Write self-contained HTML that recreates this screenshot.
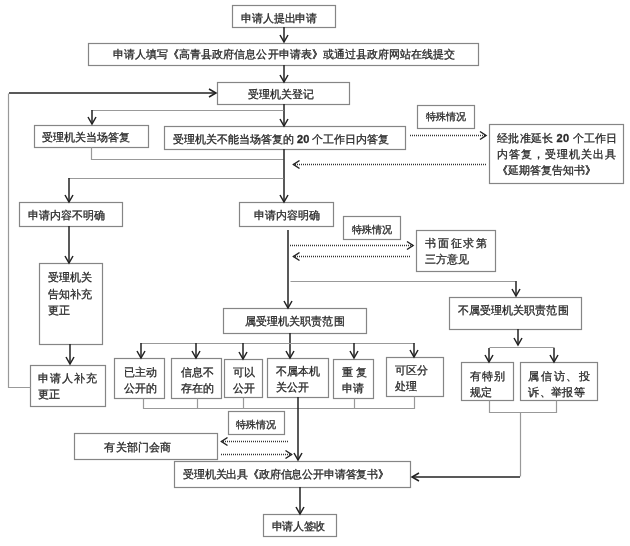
<!DOCTYPE html>
<html><head><meta charset="utf-8"><style>
html,body{margin:0;padding:0;background:#fff;width:630px;height:546px;overflow:hidden}
.t{position:absolute;white-space:nowrap;color:#2a2a2a;font-family:"Liberation Sans",sans-serif;-webkit-text-stroke:0.3px #2a2a2a}
.t b{font-weight:bold}
svg{position:absolute;left:0;top:0}
body{filter:blur(0.3px)}
</style></head><body>
<svg width="630" height="546" viewBox="0 0 630 546">
<rect x="232.50" y="5.50" width="103.00" height="22.00" fill="#fff" stroke="#858585" stroke-width="1.2"/>
<rect x="88.50" y="43.50" width="390.00" height="22.00" fill="#fff" stroke="#858585" stroke-width="1.2"/>
<rect x="217.50" y="82.50" width="132.00" height="22.00" fill="#fff" stroke="#858585" stroke-width="1.2"/>
<rect x="34.50" y="125.50" width="114.00" height="22.00" fill="#fff" stroke="#858585" stroke-width="1.2"/>
<rect x="164.50" y="126.50" width="241.00" height="23.00" fill="#fff" stroke="#858585" stroke-width="1.2"/>
<rect x="417.50" y="105.50" width="57.00" height="23.00" fill="#fff" stroke="#858585" stroke-width="1.2"/>
<rect x="489.50" y="124.50" width="134.00" height="59.00" fill="#fff" stroke="#858585" stroke-width="1.2"/>
<rect x="19.50" y="202.50" width="103.00" height="24.00" fill="#fff" stroke="#858585" stroke-width="1.2"/>
<rect x="239.50" y="202.50" width="94.00" height="24.00" fill="#fff" stroke="#858585" stroke-width="1.2"/>
<rect x="343.50" y="216.50" width="57.00" height="23.00" fill="#fff" stroke="#858585" stroke-width="1.2"/>
<rect x="416.50" y="230.50" width="79.00" height="41.00" fill="#fff" stroke="#858585" stroke-width="1.2"/>
<rect x="39.50" y="263.50" width="63.00" height="81.00" fill="#fff" stroke="#858585" stroke-width="1.2"/>
<rect x="30.50" y="365.50" width="75.00" height="41.00" fill="#fff" stroke="#858585" stroke-width="1.2"/>
<rect x="223.50" y="308.50" width="143.00" height="25.00" fill="#fff" stroke="#858585" stroke-width="1.2"/>
<rect x="449.50" y="297.50" width="132.00" height="32.00" fill="#fff" stroke="#858585" stroke-width="1.2"/>
<rect x="114.50" y="358.50" width="50.00" height="40.00" fill="#fff" stroke="#858585" stroke-width="1.2"/>
<rect x="171.50" y="358.50" width="50.00" height="40.00" fill="#fff" stroke="#858585" stroke-width="1.2"/>
<rect x="224.50" y="359.50" width="38.00" height="38.00" fill="#fff" stroke="#858585" stroke-width="1.2"/>
<rect x="267.50" y="358.50" width="61.00" height="39.00" fill="#fff" stroke="#858585" stroke-width="1.2"/>
<rect x="333.50" y="359.50" width="40.00" height="39.00" fill="#fff" stroke="#858585" stroke-width="1.2"/>
<rect x="386.50" y="357.50" width="57.00" height="39.00" fill="#fff" stroke="#858585" stroke-width="1.2"/>
<rect x="461.50" y="362.50" width="52.00" height="38.00" fill="#fff" stroke="#858585" stroke-width="1.2"/>
<rect x="520.50" y="362.50" width="77.00" height="38.00" fill="#fff" stroke="#858585" stroke-width="1.2"/>
<rect x="228.50" y="411.50" width="56.00" height="23.00" fill="#fff" stroke="#858585" stroke-width="1.2"/>
<rect x="74.50" y="433.50" width="143.00" height="26.00" fill="#fff" stroke="#858585" stroke-width="1.2"/>
<rect x="174.50" y="461.50" width="236.00" height="26.00" fill="#fff" stroke="#858585" stroke-width="1.2"/>
<rect x="263.50" y="514.50" width="73.00" height="22.00" fill="#fff" stroke="#858585" stroke-width="1.2"/>
<polyline points="284.00,27.00 284.00,42.00" fill="none" stroke="#222" stroke-width="1.5"/>
<polyline points="280.00,35.00 284.00,42.00 288.00,35.00" fill="none" stroke="#222" stroke-width="1.5" stroke-linejoin="miter" stroke-miterlimit="10"/>
<polyline points="284.00,65.00 284.00,82.00" fill="none" stroke="#222" stroke-width="1.5"/>
<polyline points="280.00,75.00 284.00,82.00 288.00,75.00" fill="none" stroke="#222" stroke-width="1.5" stroke-linejoin="miter" stroke-miterlimit="10"/>
<polyline points="30.50,387.50 8.50,387.50 8.50,93.50" fill="none" stroke="#999" stroke-width="1.2"/>
<polyline points="9.00,93.00 216.00,93.00" fill="none" stroke="#222" stroke-width="1.5"/>
<polyline points="209.00,97.00 216.00,93.00 209.00,89.00" fill="none" stroke="#222" stroke-width="1.5" stroke-linejoin="miter" stroke-miterlimit="10"/>
<polyline points="284.00,104.00 284.00,126.00" fill="none" stroke="#222" stroke-width="1.5"/>
<polyline points="280.00,119.00 284.00,126.00 288.00,119.00" fill="none" stroke="#222" stroke-width="1.5" stroke-linejoin="miter" stroke-miterlimit="10"/>
<polyline points="283.50,110.50 91.50,110.50" fill="none" stroke="#999" stroke-width="1.2"/>
<polyline points="92.00,110.00 92.00,124.00" fill="none" stroke="#222" stroke-width="1.5"/>
<polyline points="88.00,117.00 92.00,124.00 96.00,117.00" fill="none" stroke="#222" stroke-width="1.5" stroke-linejoin="miter" stroke-miterlimit="10"/>
<polyline points="91.50,147.50 91.50,159.50 283.50,159.50" fill="none" stroke="#999" stroke-width="1.2"/>
<polyline points="284.00,149.00 284.00,202.00" fill="none" stroke="#222" stroke-width="1.5"/>
<polyline points="280.00,195.00 284.00,202.00 288.00,195.00" fill="none" stroke="#222" stroke-width="1.5" stroke-linejoin="miter" stroke-miterlimit="10"/>
<polyline points="283.50,178.50 68.50,178.50" fill="none" stroke="#999" stroke-width="1.2"/>
<polyline points="69.00,178.00 69.00,202.00" fill="none" stroke="#222" stroke-width="1.5"/>
<polyline points="65.00,195.00 69.00,202.00 73.00,195.00" fill="none" stroke="#222" stroke-width="1.5" stroke-linejoin="miter" stroke-miterlimit="10"/>
<polyline points="69.00,226.00 69.00,263.00" fill="none" stroke="#222" stroke-width="1.5"/>
<polyline points="65.00,256.00 69.00,263.00 73.00,256.00" fill="none" stroke="#222" stroke-width="1.5" stroke-linejoin="miter" stroke-miterlimit="10"/>
<polyline points="70.00,344.00 70.00,364.00" fill="none" stroke="#222" stroke-width="1.5"/>
<polyline points="66.00,357.00 70.00,364.00 74.00,357.00" fill="none" stroke="#222" stroke-width="1.5" stroke-linejoin="miter" stroke-miterlimit="10"/>
<polyline points="288.00,230.00 288.00,308.00" fill="none" stroke="#222" stroke-width="1.5"/>
<polyline points="284.00,301.00 288.00,308.00 292.00,301.00" fill="none" stroke="#222" stroke-width="1.5" stroke-linejoin="miter" stroke-miterlimit="10"/>
<polyline points="290.50,281.50 515.50,281.50" fill="none" stroke="#999" stroke-width="1.2"/>
<polyline points="516.00,281.00 516.00,296.00" fill="none" stroke="#222" stroke-width="1.5"/>
<polyline points="512.00,289.00 516.00,296.00 520.00,289.00" fill="none" stroke="#222" stroke-width="1.5" stroke-linejoin="miter" stroke-miterlimit="10"/>
<polyline points="290.00,333.00 290.00,358.00" fill="none" stroke="#222" stroke-width="1.5"/>
<polyline points="286.00,351.00 290.00,358.00 294.00,351.00" fill="none" stroke="#222" stroke-width="1.5" stroke-linejoin="miter" stroke-miterlimit="10"/>
<polyline points="140.50,343.50 414.50,343.50" fill="none" stroke="#999" stroke-width="1.2"/>
<polyline points="141.00,343.00 141.00,358.00" fill="none" stroke="#222" stroke-width="1.5"/>
<polyline points="137.00,351.00 141.00,358.00 145.00,351.00" fill="none" stroke="#222" stroke-width="1.5" stroke-linejoin="miter" stroke-miterlimit="10"/>
<polyline points="196.00,343.00 196.00,358.00" fill="none" stroke="#222" stroke-width="1.5"/>
<polyline points="192.00,351.00 196.00,358.00 200.00,351.00" fill="none" stroke="#222" stroke-width="1.5" stroke-linejoin="miter" stroke-miterlimit="10"/>
<polyline points="243.00,343.00 243.00,359.00" fill="none" stroke="#222" stroke-width="1.5"/>
<polyline points="239.00,352.00 243.00,359.00 247.00,352.00" fill="none" stroke="#222" stroke-width="1.5" stroke-linejoin="miter" stroke-miterlimit="10"/>
<polyline points="354.00,343.00 354.00,358.00" fill="none" stroke="#222" stroke-width="1.5"/>
<polyline points="350.00,351.00 354.00,358.00 358.00,351.00" fill="none" stroke="#222" stroke-width="1.5" stroke-linejoin="miter" stroke-miterlimit="10"/>
<polyline points="414.00,343.00 414.00,357.00" fill="none" stroke="#222" stroke-width="1.5"/>
<polyline points="410.00,350.00 414.00,357.00 418.00,350.00" fill="none" stroke="#222" stroke-width="1.5" stroke-linejoin="miter" stroke-miterlimit="10"/>
<polyline points="143.50,398.50 143.50,408.50 414.50,408.50 414.50,396.50" fill="none" stroke="#999" stroke-width="1.2"/>
<polyline points="197.50,398.50 197.50,408.50" fill="none" stroke="#999" stroke-width="1.2"/>
<polyline points="243.50,397.50 243.50,408.50" fill="none" stroke="#999" stroke-width="1.2"/>
<polyline points="354.50,398.50 354.50,408.50" fill="none" stroke="#999" stroke-width="1.2"/>
<polyline points="298.00,397.00 298.00,460.00" fill="none" stroke="#222" stroke-width="1.5"/>
<polyline points="294.00,453.00 298.00,460.00 302.00,453.00" fill="none" stroke="#222" stroke-width="1.5" stroke-linejoin="miter" stroke-miterlimit="10"/>
<polyline points="518.00,329.00 518.00,345.00" fill="none" stroke="#222" stroke-width="1.5"/>
<polyline points="514.00,338.00 518.00,345.00 522.00,338.00" fill="none" stroke="#222" stroke-width="1.5" stroke-linejoin="miter" stroke-miterlimit="10"/>
<polyline points="489.50,347.50 554.50,347.50" fill="none" stroke="#999" stroke-width="1.2"/>
<polyline points="489.00,348.00 489.00,362.00" fill="none" stroke="#222" stroke-width="1.5"/>
<polyline points="485.00,355.00 489.00,362.00 493.00,355.00" fill="none" stroke="#222" stroke-width="1.5" stroke-linejoin="miter" stroke-miterlimit="10"/>
<polyline points="554.00,348.00 554.00,362.00" fill="none" stroke="#222" stroke-width="1.5"/>
<polyline points="550.00,355.00 554.00,362.00 558.00,355.00" fill="none" stroke="#222" stroke-width="1.5" stroke-linejoin="miter" stroke-miterlimit="10"/>
<polyline points="489.50,400.50 489.50,412.50 556.50,412.50 556.50,400.50" fill="none" stroke="#999" stroke-width="1.2"/>
<polyline points="520.50,412.50 520.50,476.50" fill="none" stroke="#999" stroke-width="1.2"/>
<polyline points="520.00,477.00 412.00,477.00" fill="none" stroke="#222" stroke-width="1.5"/>
<polyline points="419.00,473.00 412.00,477.00 419.00,481.00" fill="none" stroke="#222" stroke-width="1.5" stroke-linejoin="miter" stroke-miterlimit="10"/>
<polyline points="300.00,487.00 300.00,514.00" fill="none" stroke="#222" stroke-width="1.5"/>
<polyline points="296.00,507.00 300.00,514.00 304.00,507.00" fill="none" stroke="#222" stroke-width="1.5" stroke-linejoin="miter" stroke-miterlimit="10"/>
<line x1="410.00" y1="135.50" x2="486.00" y2="135.50" stroke="#333" stroke-width="1.3" stroke-dasharray="1 1"/>
<polyline points="480.00,139.50 486.00,135.50 480.00,131.50" fill="none" stroke="#222" stroke-width="1.5" stroke-linejoin="miter" stroke-miterlimit="10"/>
<line x1="486.00" y1="164.50" x2="293.50" y2="164.50" stroke="#333" stroke-width="1.3" stroke-dasharray="1 1"/>
<polyline points="299.50,160.50 293.50,164.50 299.50,168.50" fill="none" stroke="#222" stroke-width="1.5" stroke-linejoin="miter" stroke-miterlimit="10"/>
<line x1="290.00" y1="245.50" x2="413.00" y2="245.50" stroke="#333" stroke-width="1.3" stroke-dasharray="1 1"/>
<polyline points="407.00,249.50 413.00,245.50 407.00,241.50" fill="none" stroke="#222" stroke-width="1.5" stroke-linejoin="miter" stroke-miterlimit="10"/>
<line x1="410.00" y1="256.50" x2="293.50" y2="256.50" stroke="#333" stroke-width="1.3" stroke-dasharray="1 1"/>
<polyline points="299.50,252.50 293.50,256.50 299.50,260.50" fill="none" stroke="#222" stroke-width="1.5" stroke-linejoin="miter" stroke-miterlimit="10"/>
<line x1="288.00" y1="441.50" x2="221.50" y2="441.50" stroke="#333" stroke-width="1.3" stroke-dasharray="1 1"/>
<polyline points="227.50,437.50 221.50,441.50 227.50,445.50" fill="none" stroke="#222" stroke-width="1.5" stroke-linejoin="miter" stroke-miterlimit="10"/>
<line x1="221.00" y1="454.50" x2="291.50" y2="454.50" stroke="#333" stroke-width="1.3" stroke-dasharray="1 1"/>
<polyline points="285.50,458.50 291.50,454.50 285.50,450.50" fill="none" stroke="#222" stroke-width="1.5" stroke-linejoin="miter" stroke-miterlimit="10"/>
</svg>
<div class="t" style="left:241.30px;top:10.55px;font-size:11px;line-height:15px;letter-spacing:-0.17px">申请人提出申请</div>
<div class="t" style="left:112.70px;top:47.05px;font-size:11px;line-height:15px;letter-spacing:0.06px">申请人填写《高青县政府信息公开申请表》或通过县政府网站在线提交</div>
<div class="t" style="left:248.00px;top:87.05px;font-size:11px;line-height:15px;letter-spacing:0.00px">受理机关登记</div>
<div class="t" style="left:42.30px;top:130.05px;font-size:11px;line-height:15px;letter-spacing:0.00px">受理机关当场答复</div>
<div class="t" style="left:173.00px;top:132.05px;font-size:11px;line-height:15px;letter-spacing:0.00px">受理机关不能当场答复的 <b>20</b> 个工作日内答复</div>
<div class="t" style="left:425.60px;top:110.42px;font-size:9.5px;line-height:13.5px;letter-spacing:0.00px">特殊情况</div>
<div class="t" style="left:497.00px;top:131.45px;font-size:11px;line-height:15px;letter-spacing:0.25px">经批准延长 <b>20</b> 个工作日</div>
<div class="t" style="left:497.00px;top:147.05px;font-size:11px;line-height:15px;letter-spacing:1.01px">内答复，受理机关出具</div>
<div class="t" style="left:497.00px;top:163.05px;font-size:11px;line-height:15px;letter-spacing:0.00px">《延期答复告知书》</div>
<div class="t" style="left:28.20px;top:207.65px;font-size:11px;line-height:15px;letter-spacing:0.00px">申请内容不明确</div>
<div class="t" style="left:253.80px;top:208.05px;font-size:11px;line-height:15px;letter-spacing:0.00px">申请内容明确</div>
<div class="t" style="left:351.70px;top:222.92px;font-size:9.5px;line-height:13.5px;letter-spacing:0.00px">特殊情况</div>
<div class="t" style="left:425.00px;top:235.95px;font-size:11px;line-height:15px;letter-spacing:1.80px">书面征求第</div>
<div class="t" style="left:425.00px;top:252.45px;font-size:11px;line-height:15px;letter-spacing:0.00px">三方意见</div>
<div class="t" style="left:48.20px;top:270.35px;font-size:11px;line-height:15px;letter-spacing:0.00px">受理机关</div>
<div class="t" style="left:48.20px;top:286.85px;font-size:11px;line-height:15px;letter-spacing:0.00px">告知补充</div>
<div class="t" style="left:48.20px;top:303.05px;font-size:11px;line-height:15px;letter-spacing:0.00px">更正</div>
<div class="t" style="left:38.00px;top:370.75px;font-size:11px;line-height:15px;letter-spacing:1.00px">申请人补充</div>
<div class="t" style="left:38.00px;top:387.05px;font-size:11px;line-height:15px;letter-spacing:0.00px">更正</div>
<div class="t" style="left:244.80px;top:314.05px;font-size:11px;line-height:15px;letter-spacing:0.09px">属受理机关职责范围</div>
<div class="t" style="left:458.00px;top:303.05px;font-size:11px;line-height:15px;letter-spacing:0.06px">不属受理机关职责范围</div>
<div class="t" style="left:124.00px;top:364.85px;font-size:11px;line-height:15px;letter-spacing:0.00px">已主动</div>
<div class="t" style="left:124.00px;top:380.85px;font-size:11px;line-height:15px;letter-spacing:0.00px">公开的</div>
<div class="t" style="left:180.70px;top:364.85px;font-size:11px;line-height:15px;letter-spacing:0.00px">信息不</div>
<div class="t" style="left:180.70px;top:380.85px;font-size:11px;line-height:15px;letter-spacing:0.00px">存在的</div>
<div class="t" style="left:233.20px;top:364.85px;font-size:11px;line-height:15px;letter-spacing:0.00px">可以</div>
<div class="t" style="left:233.20px;top:380.85px;font-size:11px;line-height:15px;letter-spacing:0.00px">公开</div>
<div class="t" style="left:275.60px;top:363.65px;font-size:11px;line-height:15px;letter-spacing:0.00px">不属本机</div>
<div class="t" style="left:275.60px;top:380.05px;font-size:11px;line-height:15px;letter-spacing:0.00px">关公开</div>
<div class="t" style="left:342.30px;top:365.05px;font-size:11px;line-height:15px;letter-spacing:3.20px">重复</div>
<div class="t" style="left:342.30px;top:381.05px;font-size:11px;line-height:15px;letter-spacing:0.00px">申请</div>
<div class="t" style="left:395.00px;top:363.05px;font-size:11px;line-height:15px;letter-spacing:0.00px">可区分</div>
<div class="t" style="left:395.00px;top:379.45px;font-size:11px;line-height:15px;letter-spacing:0.00px">处理</div>
<div class="t" style="left:469.60px;top:369.05px;font-size:11px;line-height:15px;letter-spacing:1.35px">有特别</div>
<div class="t" style="left:469.60px;top:384.65px;font-size:11px;line-height:15px;letter-spacing:0.00px">规定</div>
<div class="t" style="left:528.40px;top:369.05px;font-size:11px;line-height:15px;letter-spacing:1.60px">属信访、投</div>
<div class="t" style="left:528.40px;top:384.65px;font-size:11px;line-height:15px;letter-spacing:0.28px">诉、举报等</div>
<div class="t" style="left:235.90px;top:418.03px;font-size:9.5px;line-height:13.5px;letter-spacing:0.00px">特殊情况</div>
<div class="t" style="left:104.40px;top:439.75px;font-size:11px;line-height:15px;letter-spacing:0.22px">有关部门会商</div>
<div class="t" style="left:183.00px;top:467.05px;font-size:11px;line-height:15px;letter-spacing:-0.16px">受理机关出具《政府信息公开申请答复书》</div>
<div class="t" style="left:271.70px;top:518.75px;font-size:11px;line-height:15px;letter-spacing:-0.30px">申请人签收</div>
</body></html>
